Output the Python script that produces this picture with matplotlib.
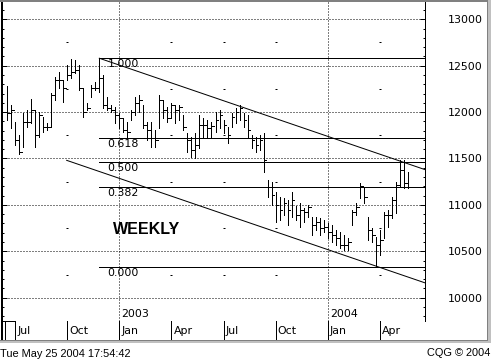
import matplotlib
matplotlib.use('Agg')
import matplotlib.pyplot as plt
import matplotlib.dates as mdates
from matplotlib.ticker import MultipleLocator
from matplotlib.patches import Rectangle
import numpy as np
import pandas as pd

W, H = 491, 362
PX = 72 / 100  # one pixel in points
LW = 0.9 * PX  # crisp one-pixel lines

# weekly bars (Friday dates)
weeks = pd.date_range('2002-06-21', periods=101, freq='7D')
high = [12280, 12080, 11890, 11750, 11990, 12020, 12140, 12020, 12000, 11950,
        11880, 12210, 12380, 12430, 12350, 12510, 12570, 12560, 12510, 12260,
        12100, 12290, 12320, 12580, 12400, 12160, 12080, 12060, 11990, 11940,
        11890, 12020, 12160, 12180, 12080, 11890, 11890, 11810, 12180, 12130,
        12060, 12100, 12080, 12080, 11970, 11770, 11730, 11770, 11970, 11940,
        11910, 11890, 12000, 12020, 11910, 11840, 11990, 12040, 12080, 11990,
        11970, 11750, 11730, 11750, 11770, 11270, 11250, 11140, 11090, 11070,
        11050, 11140, 10990, 11020, 10970, 11000, 10870, 10870, 10860, 10840,
        10810, 10780, 10730, 10710, 10680, 10640, 10950, 11020, 11240, 11190,
        10870, 10750, 10650, 10730, 10920, 10950, 11090, 11250, 11480, 11480,
        11350]
low = [11910, 11830, 11650, 11550, 11620, 11840, 11880, 11620, 11730, 11790,
       11810, 11840, 12130, 12260, 12110, 12350, 12370, 12420, 12240, 11950,
       12020, 12160, 12240, 12220, 12040, 12020, 12000, 11880, 11830, 11790,
       11730, 11910, 11970, 12000, 11830, 11700, 11620, 11620, 11830, 11940,
       11890, 11940, 11880, 11910, 11810, 11570, 11520, 11510, 11610, 11730,
       11720, 11730, 11790, 11830, 11770, 11670, 11840, 11880, 11910, 11840,
       11730, 11610, 11570, 11590, 11350, 11090, 11000, 10820, 10840, 10890,
       10780, 10870, 10840, 10760, 10820, 10870, 10680, 10730, 10680, 10710,
       10640, 10600, 10570, 10540, 10510, 10510, 10780, 10890, 11070, 11020,
       10620, 10600, 10330, 10460, 10640, 10760, 10860, 10910, 11200, 11180,
       11180]
close = [11990, 12020, 11700, 11570, 11890, 11890, 12020, 11750, 11970, 11840,
         11840, 12180, 12350, 12350, 12260, 12400, 12430, 12450, 12260, 12000,
         12040, 12260, 12260, 12370, 12080, 12040, 12020, 11970, 11940, 11810,
         11790, 12000, 12100, 12130, 11860, 11810, 11720, 11700, 12130, 12020,
         11940, 12080, 12020, 12060, 11840, 11700, 11590, 11650, 11860, 11860,
         11830, 11850, 11910, 11970, 11860, 11750, 11950, 12000, 12040, 11910,
         11810, 11700, 11650, 11700, 11480, 11190, 11110, 11000, 10950, 11020,
         10950, 11050, 10890, 10950, 10920, 10980, 10780, 10820, 10750, 10760,
         10710, 10680, 10640, 10570, 10570, 10600, 10920, 10980, 11200, 11090,
         10730, 10680, 10570, 10620, 10890, 10890, 11050, 11210, 11380, 11240,
         11190]

# fibonacci retracement from the Nov 2002 high to the Mar 2004 low
fib_start = pd.Timestamp('2002-11-29')
fib_levels = [12580, 11720, 11460, 11190, 10330]
fib_labels = ['1.000', '0.618', '0.500', '0.382', '0.000']

# trend channel
upper_x = ['2002-11-29', '2004-06-20']
upper_y = [12580, 11380]
lower_x = ['2002-10-03', '2004-06-20']
lower_y = [11480, 10160]

x_left = mdates.date2num(pd.Timestamp('2002-06-12'))
x_right = mdates.date2num(pd.Timestamp('2004-06-20'))

fig = plt.figure(figsize=(W / 100, H / 100), dpi=100)
fig.patch.set_facecolor('white')


def box(x0, y0, x1, y1):
    return [x0 / W, 1 - y1 / H, (x1 - x0) / W, (y1 - y0) / H]


ax = fig.add_axes(box(2, 2, 425, 321))
ax.set_xlim(x_left, x_right)
ax.set_ylim(9749, 13186)

xd = mdates.date2num(weeks)
ax.vlines(xd, low, high, color='black', lw=LW, zorder=3, antialiased=False)
ax.hlines(close, xd, xd + 5, color='black', lw=LW, zorder=3, antialiased=False)

# dotted grid
ax.yaxis.set_major_locator(MultipleLocator(500))
ax.yaxis.set_minor_locator(MultipleLocator(100))
ax.grid(axis='y', which='major', color='black', lw=PX, ls=(0, (1, 2)), zorder=1)

# first bar of each quarter month
seps = []
for k in range(len(weeks)):
    d = weeks[k]
    if d.month in (1, 4, 7, 10) and (k == 0 or weeks[k - 1].month != d.month):
        seps.append(d)

for d in seps:
    if d.month == 1:
        ax.axvline(mdates.date2num(d), color='black', lw=PX, ls=(0, (1, 2)), zorder=1)
        ax.annotate(str(d.year), (mdates.date2num(d), 0), xycoords=('data', 'axes fraction'),
                    xytext=(2 * PX, 2 * PX), textcoords='offset points',
                    ha='left', va='bottom', fontsize=11 * PX)

dot_levels = np.arange(10250, 13000, 500)
for d in seps[1:]:
    if d.month != 1:
        ax.plot([mdates.date2num(d)] * len(dot_levels), dot_levels, ls='none',
                marker='_', ms=2.5 * PX, mew=PX, color='black', zorder=1)

# fib lines
for lvl, lab in zip(fib_levels, fib_labels):
    ax.hlines(lvl, mdates.date2num(fib_start), x_right, color='black', lw=LW,
              zorder=2, antialiased=False)
    ax.annotate(lab, (mdates.date2num(fib_start), lvl), xytext=(8 * PX, -1 * PX),
                textcoords='offset points', ha='left', va='top', fontsize=11 * PX)

# channel lines
ax.plot(mdates.date2num(pd.to_datetime(upper_x)), upper_y, color='black', lw=PX, zorder=2)
ax.plot(mdates.date2num(pd.to_datetime(lower_x)), lower_y, color='black', lw=PX, zorder=2)

ax.text(0.262, 0.288, 'WEEKLY', transform=ax.transAxes, ha='left', va='center',
        fontweight='bold', family='Liberation Sans', fontsize=16 * PX)

ax.tick_params(axis='x', which='both', bottom=False, labelbottom=False)
ax.tick_params(axis='y', which='major', direction='in', length=5 * PX, width=PX,
               left=True, right=True, labelleft=False, labelright=True,
               labelsize=11 * PX, pad=58 * PX)
ax.tick_params(axis='y', which='minor', direction='in', length=2.5 * PX, width=PX,
               left=True, right=True)
for lab in ax.get_yticklabels():
    lab.set_horizontalalignment('right')

ax.spines['top'].set_visible(False)
ax.spines['left'].set_linewidth(2 * PX)
ax.spines['right'].set_linewidth(PX)
ax.spines['bottom'].set_linewidth(PX)

# date panel
dax = fig.add_axes(box(2, 321, 425, 340))
dax.set_xlim(x_left, x_right)
dax.set_ylim(0, 1)
dax.set_xticks([])
dax.set_yticks([])
for s in ('top', 'right', 'bottom'):
    dax.spines[s].set_visible(False)
dax.spines['left'].set_linewidth(2 * PX)

for d in seps:
    xv = mdates.date2num(d)
    dax.axvline(xv, color='black', lw=PX)
    dax.annotate(d.strftime('%b'), (xv, 0.5), xytext=(2 * PX, 0), textcoords='offset points',
                 ha='left', va='center', fontsize=11 * PX)

dax.add_patch(Rectangle((x_left, 0), mdates.date2num(seps[0]) - x_left, 1,
                        fill=False, edgecolor='black', lw=PX))
dax.axvline(x_left + 5, color='black', lw=PX)

# window frame
fig.add_artist(Rectangle((0, 1 - 2 / H), 1, 2 / H, transform=fig.transFigure,
                         facecolor='#808080', edgecolor='none'))
fig.add_artist(Rectangle((487 / W, 1 - 343 / H), 4 / W, 343 / H, transform=fig.transFigure,
                         facecolor='#c0c0c0', edgecolor='none'))
fig.add_artist(Rectangle((487 / W, 1 - 343 / H), 1 / W, 343 / H, transform=fig.transFigure,
                         facecolor='#808080', edgecolor='none'))
fig.add_artist(Rectangle((0, 1 - 343 / H), 491 / W, 3 / H, transform=fig.transFigure,
                         facecolor='#c0c0c0', edgecolor='none'))
fig.add_artist(Rectangle((0, 1 - 341 / H), 488 / W, 1.2 / H, transform=fig.transFigure,
                         facecolor='#808080', edgecolor='none'))

fig.text(0, 1 - 354 / H, 'Tue May 25 2004 17:54:42', ha='left', va='center',
         family='Liberation Sans', fontsize=7.9)
fig.text(490 / W, 1 - 353 / H, 'CQG © 2004', ha='right', va='center',
         family='Liberation Sans', fontsize=7.9)

fig.savefig('out.png', dpi=100)
